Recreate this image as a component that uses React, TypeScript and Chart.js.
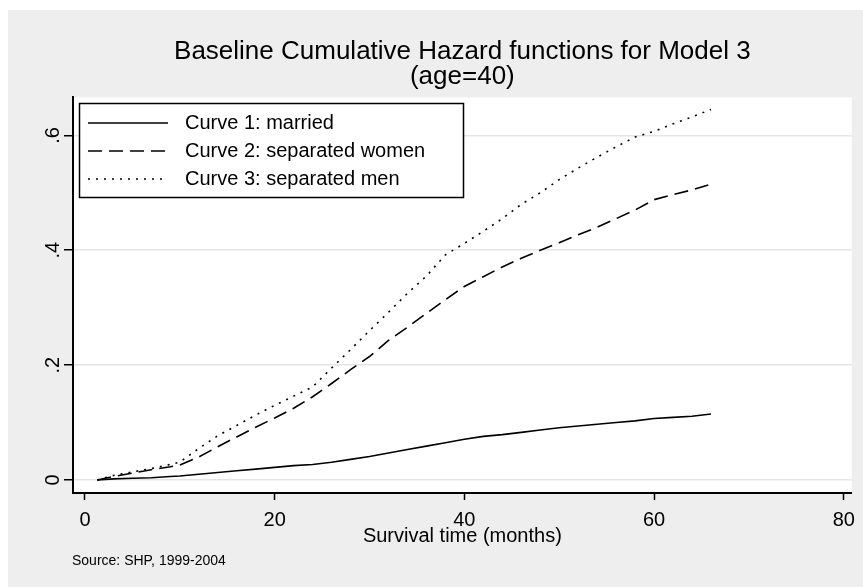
import React, { useEffect, useRef } from 'react';
import { Chart, registerables } from 'chart.js';

Chart.register(...registerables);

// ---------- data ----------
const titleLines = ['Baseline Cumulative Hazard functions for Model 3', '(age=40)'];
const xAxisTitle = 'Survival time (months)';
const sourceNote = 'Source: SHP, 1999-2004';
const seriesLabels = ['Curve 1: married', 'Curve 2: separated women', 'Curve 3: separated men'];

const months = [1.3, 3, 5, 7, 9, 10, 12, 14, 16, 18, 20, 22, 24, 26, 28, 30, 32, 34, 36, 38, 40, 42, 44, 46, 48, 50, 52, 54, 56, 58, 60, 62, 64, 66];
const married = [0, 0.002, 0.003, 0.004, 0.006, 0.007, 0.01, 0.013, 0.016, 0.019, 0.022, 0.025, 0.027, 0.031, 0.036, 0.041, 0.047, 0.053, 0.059, 0.065, 0.071, 0.076, 0.079, 0.083, 0.087, 0.091, 0.094, 0.097, 0.1, 0.103, 0.107, 0.109, 0.111, 0.115];
const separatedWomen = [0, 0.006, 0.012, 0.018, 0.023, 0.026, 0.04, 0.058, 0.075, 0.092, 0.108, 0.125, 0.145, 0.168, 0.192, 0.215, 0.243, 0.266, 0.29, 0.314, 0.337, 0.354, 0.371, 0.386, 0.4, 0.413, 0.427, 0.44, 0.455, 0.47, 0.488, 0.497, 0.505, 0.515];
const separatedMen = [0, 0.008, 0.014, 0.02, 0.027, 0.031, 0.055, 0.077, 0.095, 0.113, 0.13, 0.146, 0.162, 0.195, 0.227, 0.26, 0.292, 0.325, 0.355, 0.392, 0.412, 0.433, 0.455, 0.48, 0.5, 0.523, 0.543, 0.562, 0.58, 0.597, 0.607, 0.62, 0.632, 0.645];

const xTickValues = [0, 20, 40, 60, 80];
const yTickValues = [0, 0.2, 0.4, 0.6];
const yTickLabels = ['0', '.2', '.4', '.6'];
const xRange = [-1.26, 80.84];
const yRange = [-0.0226, 0.666];

const FONT = '"Liberation Sans", Arial, sans-serif';

const toPoints = (ys: number[]) => months.map((m, i) => ({ x: m, y: ys[i] }));

const decorPlugin = {
  id: 'stataDecor',
  beforeDraw(chart: any) {
    const { ctx, chartArea } = chart;
    ctx.save();
    ctx.fillStyle = '#ffffff';
    ctx.fillRect(0, 0, chart.width, chart.height);
    ctx.fillStyle = '#eeeeee';
    ctx.fillRect(8, 10, chart.width - 8, chart.height - 10);
    ctx.fillStyle = '#ffffff';
    ctx.fillRect(chartArea.left, chartArea.top, chartArea.right - chartArea.left, chartArea.bottom - chartArea.top);
    ctx.restore();
  },
  afterDraw(chart: any) {
    const { ctx } = chart;
    const yScale = chart.scales.y;
    ctx.save();
    // rotated y tick labels
    ctx.fillStyle = '#000';
    ctx.font = `20px ${FONT}`;
    ctx.textAlign = 'center';
    ctx.textBaseline = 'middle';
    yTickValues.forEach((v, i) => {
      const py = yScale.getPixelForValue(v);
      ctx.save();
      ctx.translate(53, py);
      ctx.rotate(-Math.PI / 2);
      ctx.fillText(yTickLabels[i], 0, 0);
      ctx.restore();
    });
    // legend
    const bx = 79, by = 103, bw = 384, bh = 94;
    ctx.fillStyle = '#fff';
    ctx.fillRect(bx, by, bw, bh);
    ctx.strokeStyle = '#000';
    ctx.lineWidth = 1.5;
    ctx.setLineDash([]);
    ctx.strokeRect(bx + 0.5, by + 0.5, bw, bh);
    ctx.font = `20px ${FONT}`;
    ctx.textAlign = 'left';
    ctx.textBaseline = 'middle';
    chart.data.datasets.forEach((ds: any, i: number) => {
      const ry = by + 20 + i * 28;
      ctx.strokeStyle = ds.borderColor;
      ctx.lineWidth = ds.borderWidth;
      ctx.setLineDash(ds.borderDash || []);
      ctx.beginPath();
      ctx.moveTo(bx + 9, ry);
      ctx.lineTo(bx + 89, ry);
      ctx.stroke();
      ctx.setLineDash([]);
      ctx.fillStyle = '#000';
      ctx.fillText(ds.label, bx + 106, ry);
    });
    // source note
    ctx.font = `14px ${FONT}`;
    ctx.textBaseline = 'middle';
    ctx.fillStyle = '#000';
    ctx.fillText(sourceNote, 72, 561);
    ctx.restore();
  },
};

export default function App() {
  const ref = useRef<HTMLCanvasElement | null>(null);
  useEffect(() => {
    document.body.style.margin = '0';
    document.body.style.overflow = 'hidden';
    const canvas = ref.current;
    if (!canvas) return;
    const chart = new Chart(canvas, {
      type: 'line',
      data: {
        datasets: [
          { label: seriesLabels[0], data: toPoints(married), borderColor: '#000', borderWidth: 1.6, borderDash: [], pointRadius: 0, tension: 0, fill: false },
          { label: seriesLabels[1], data: toPoints(separatedWomen), borderColor: '#000', borderWidth: 1.6, borderDash: [14, 7], pointRadius: 0, tension: 0, fill: false },
          { label: seriesLabels[2], data: toPoints(separatedMen), borderColor: '#000', borderWidth: 1.6, borderDash: [2, 6], pointRadius: 0, tension: 0, fill: false },
        ],
      },
      options: {
        animation: false,
        responsive: false,
        devicePixelRatio: 1,
        layout: { padding: { left: 8, right: 10, top: 0, bottom: 0 } },
        plugins: {
          legend: { display: false },
          tooltip: { enabled: false },
          title: {
            display: true,
            text: titleLines,
            fullSize: false,
            color: '#000',
            font: { family: FONT, size: 26, weight: 'normal', lineHeight: 0.97 },
            padding: { top: 39, bottom: 8 },
          },
        },
        scales: {
          x: {
            type: 'linear',
            min: xRange[0],
            max: xRange[1],
            afterBuildTicks: (s: any) => { s.ticks = xTickValues.map((v) => ({ value: v })); },
            afterFit: (s: any) => { s.height = 94; },
            ticks: { color: '#000', font: { family: FONT, size: 20 }, padding: 8, maxRotation: 0, autoSkip: false, callback: (v: any) => String(v) },
            grid: { drawOnChartArea: false, tickLength: 7, tickColor: '#000', tickWidth: 1.5 },
            border: { color: '#000', width: 2 },
            title: { display: true, text: xAxisTitle, color: '#000', font: { family: FONT, size: 20, lineHeight: 1.2 }, padding: { top: 0, bottom: 39 } },
          },
          y: {
            type: 'linear',
            min: yRange[0],
            max: yRange[1],
            afterBuildTicks: (s: any) => { s.ticks = yTickValues.map((v) => ({ value: v })); },
            afterFit: (s: any) => { s.width = 65; },
            ticks: { display: false },
            grid: { color: '#e4e4e4', lineWidth: 1.5, tickLength: 9, tickColor: '#000', tickWidth: 1.5 },
            border: { color: '#000', width: 2 },
          },
        },
      },
      plugins: [decorPlugin],
    } as any);
    return () => chart.destroy();
  }, []);
  return <canvas ref={ref} width={863} height={587} style={{ display: 'block', width: 863, height: 587 }} />;
}
